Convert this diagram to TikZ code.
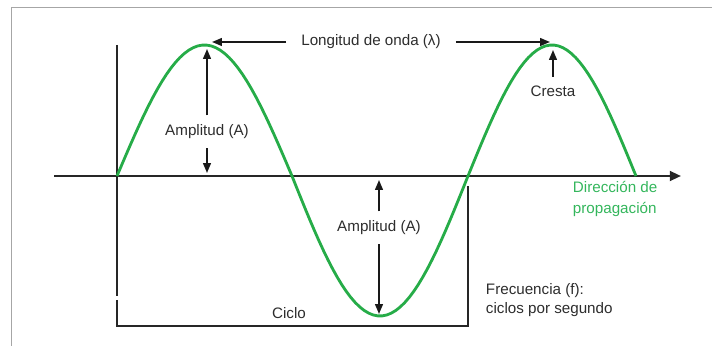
\documentclass[tikz,border=0pt]{standalone}
\usepackage{fontspec}
\setmainfont{Liberation Sans}
\usepackage{xcolor}
\usepackage{tikz}
\usetikzlibrary{positioning, arrows.meta}

\definecolor{wavegreen}{RGB}{38,172,72}
\definecolor{labelgreen}{RGB}{52,182,92}
\definecolor{labelgray}{RGB}{45,45,45}

\begin{document}
\begin{tikzpicture}[x=0.025cm, y=-0.025cm,
  every node/.style={font=\fontsize{10.8}{13}\selectfont, text=labelgray},
  axisline/.style={line width=1.6pt, black!85},
  wave/.style={line width=2pt, wavegreen, line join=round},
  arr/.style={line width=1.2pt, black!90, -{Triangle[length=7pt, width=5.5pt]}},
  lbl/.style={inner ysep=6.5pt}]
\useasboundingbox (0,0) rectangle (712,346);
% Frame of the figure (top and left edge)
\draw[gray!70, line width=0.6pt] (11,346) -- (11,7) -- (712,7);
% Propagation axis and the vertical reference line
\draw[axisline, -{Triangle[length=8pt, width=7pt]}] (54,176) -- (681,176);
\draw[axisline] (117,45) -- (117,296);
% Cycle bracket
\draw[axisline] (117,300) -- (117,326) -- (468,326) -- (468,186);
% The wave: crest, trough, crest
\draw[wave] plot[domain=0:180, samples=40] ({117+\x/180*175}, {176-131*sin(\x)})
  -- plot[domain=0:180, samples=40] ({292+\x/180*176}, {176+140*sin(\x)})
  -- plot[domain=0:180, samples=40] ({468+\x/180*168}, {176-131*sin(\x)});
% Key points on the wave
\coordinate (crestA) at (212,42);
\coordinate (crestB) at (550,42);
\coordinate (topA) at (207,49);
\coordinate (baseA) at (207,173);
\coordinate (baseB) at (379,180);
\coordinate (trough) at (379,314);
\coordinate (topB) at (553,50);
% Wavelength
\node[inner xsep=10.6pt] (lambda) at (371,42) {Longitud de onda (λ)};
\draw[arr] (lambda) -- (crestA);
\draw[arr] (lambda) -- (crestB);
% Amplitude above and below the axis
\node[lbl] (ampup) at (207,132) {Amplitud (A)};
\draw[arr] (ampup) -- (topA);
\draw[arr] (ampup) -- (baseA);
\node[lbl] (ampdown) at (379,228) {Amplitud (A)};
\draw[arr] (ampdown) -- (baseB);
\draw[arr] (ampdown) -- (trough);
% Crest
\node[inner ysep=6pt] (cresta) at (553,91) {Cresta};
\draw[arr] (cresta) -- (topB);
% Other labels
\node[anchor=west, align=left, text=labelgreen, font=\fontsize{10.8}{15.5}\selectfont] (dir) at (568,199) {Dirección de\\propagación};
\node (ciclo) at (289,313) {Ciclo};
\node[anchor=west, align=left, font=\fontsize{10.8}{13.5}\selectfont] (freq) at (481,300) {Frecuencia (f):\\ciclos por segundo};
\end{tikzpicture}
\end{document}
